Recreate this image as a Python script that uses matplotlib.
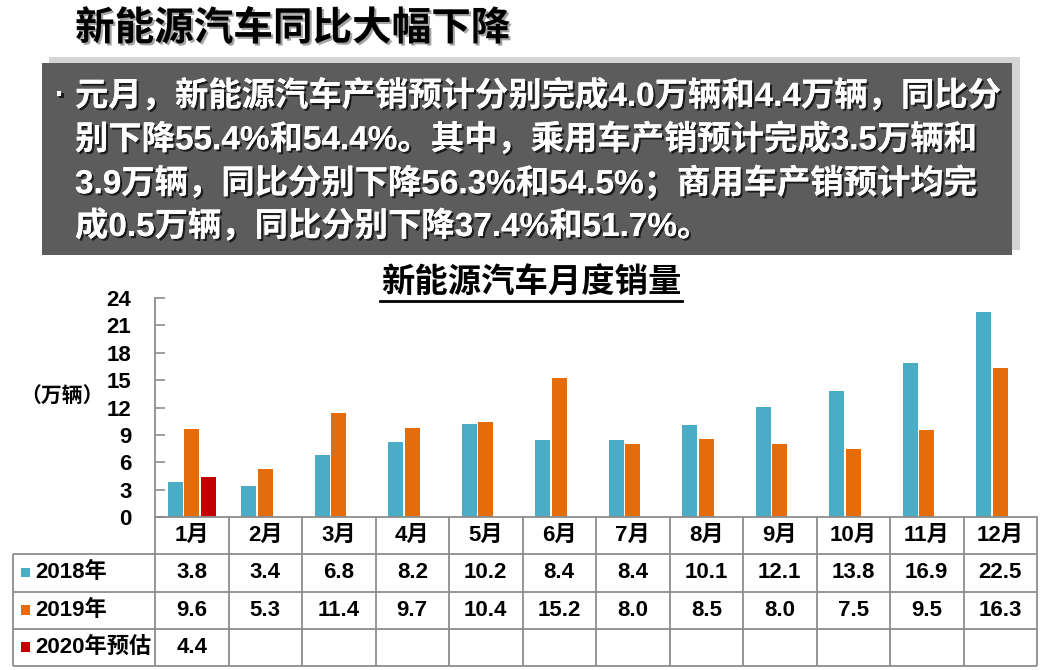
import matplotlib
matplotlib.use("Agg")
import matplotlib.pyplot as plt
import matplotlib.patheffects as pe
from matplotlib.patches import Rectangle
from matplotlib.lines import Line2D
import numpy as np

plt.rcParams['font.family'] = ['Liberation Sans', 'Noto Sans CJK SC', 'DejaVu Sans']
plt.rcParams['font.weight'] = 'bold'

W, H = 1059, 670

# data
months = ['1月', '2月', '3月', '4月', '5月', '6月', '7月', '8月', '9月', '10月', '11月', '12月']
sales_2018 = [3.8, 3.4, 6.8, 8.2, 10.2, 8.4, 8.4, 10.1, 12.1, 13.8, 16.9, 22.5]
sales_2019 = [9.6, 5.3, 11.4, 9.7, 10.4, 15.2, 8.0, 8.5, 8.0, 7.5, 9.5, 16.3]
sales_2020 = [4.4]
series_names = ['2018年', '2019年', '2020年预估']
series_colors = ['#4BACC6', '#E46C0A', '#C00000']
y_ticks = [0, 3, 6, 9, 12, 15, 18, 21, 24]

title = '新能源汽车同比大幅下降'
chart_title = '新能源汽车月度销量'
box_lines = [
    '元月，新能源汽车产销预计分别完成4.0万辆和4.4万辆，同比分',
    '别下降55.4%和54.4%。其中，乘用车产销预计完成3.5万辆和',
    '3.9万辆，同比分别下降56.3%和54.5%；商用车产销预计均完',
    '成0.5万辆，同比分别下降37.4%和51.7%。',
]


def fx(x):
    return x / W


def fy(y):
    return 1 - y / H


fig = plt.figure(figsize=(W / 100, H / 100), dpi=100)
fig.patch.set_facecolor('white')

# headline
fig.text(fx(75), fy(29), title, fontsize=28.5, color='black', va='center', ha='left',
         path_effects=[pe.withSimplePatchShadow(offset=(1.5, -1.5), shadow_rgbFace='#999999', alpha=0.9)])

# gray text box with light frame
fig.add_artist(Rectangle((fx(49), fy(250)), fx(1020) - fx(49), (250 - 57) / H,
                         transform=fig.transFigure, facecolor='#d4d4d4', edgecolor='none'))
fig.add_artist(Rectangle((fx(42), fy(255)), fx(1012) - fx(42), (255 - 63) / H,
                         transform=fig.transFigure, facecolor='#5c5c5c', edgecolor='none'))

shadow = [pe.withSimplePatchShadow(offset=(1.5, -1.5), shadow_rgbFace='black', alpha=0.7), pe.Normal()]
fig.text(fx(60), fy(96), '·', fontsize=24, color='white', ha='center', va='center', path_effects=shadow)
for i, line in enumerate(box_lines):
    fig.text(fx(75), fy(96 + i * 43.5), line, fontsize=24, color='white', ha='left', va='center',
             path_effects=shadow)

# chart title with underline
fig.text(fx(531), fy(284), chart_title, fontsize=24, color='black', ha='center', va='center')
fig.add_artist(Line2D([fx(380), fx(682)], [fy(301), fy(301)], transform=fig.transFigure,
                      color='black', lw=2))

# bar chart
ax = fig.add_axes([fx(155), fy(517), fx(1037) - fx(155), (517 - 298) / H])
slot = 0.222
x = np.arange(len(months)) + 0.5
for k, (vals, col) in enumerate(zip([sales_2018, sales_2019, sales_2020], series_colors)):
    xs = x[:len(vals)] + (k - 1) * slot
    ax.bar(xs, vals, width=slot * 0.92, color=col, edgecolor='none')

ax.set_xlim(0, 12)
ax.set_ylim(0, 24)
ax.set_yticks(y_ticks)
ax.set_yticklabels([str(t) for t in y_ticks], fontsize=16, fontweight='bold')
ax.set_xticks([])
ax.tick_params(axis='y', direction='in', length=7, width=1.2, color='#8c8c8c', pad=17)
for s in ['top', 'right']:
    ax.spines[s].set_visible(False)
for s in ['left', 'bottom']:
    ax.spines[s].set_color('#8c8c8c')
    ax.spines[s].set_linewidth(1.3)
fig.text(fx(104), fy(397), '（万辆）', fontsize=15, ha='right', va='center')

# data table under the chart
lab_w = (155 - 13) / 73.5
tax = fig.add_axes([fx(13), fy(666), fx(1037) - fx(13), (666 - 517) / H])
tax.set_xlim(-lab_w, 12)
tax.set_ylim(0, 4)
tax.axis('off')
grid_kw = dict(color='#8c8c8c', lw=1.3, clip_on=False)
tax.hlines([0, 1, 2, 3], -lab_w, 12, **grid_kw)
tax.vlines(np.arange(13), 0, 4, **grid_kw)
tax.vlines([-lab_w], 0, 3, **grid_kw)

for i, m in enumerate(months):
    tax.text(i + 0.5, 3.5, m, fontsize=16, ha='center', va='center')

rows = [sales_2018, sales_2019, sales_2020]
for r, (vals, name, col) in enumerate(zip(rows, series_names, series_colors)):
    yc = 2.5 - r
    tax.add_patch(Rectangle((-lab_w + 8 / 73.5, yc - 0.12), 9 / 73.5, 0.26, facecolor=col,
                            edgecolor='none', clip_on=False))
    tax.text(-lab_w + 22 / 73.5, yc, name, fontsize=16, ha='left', va='center')
    for i, v in enumerate(vals):
        tax.text(i + 0.5, yc, f'{v:.1f}', fontsize=16, ha='center', va='center')

fig.savefig('out.png', dpi=100)
